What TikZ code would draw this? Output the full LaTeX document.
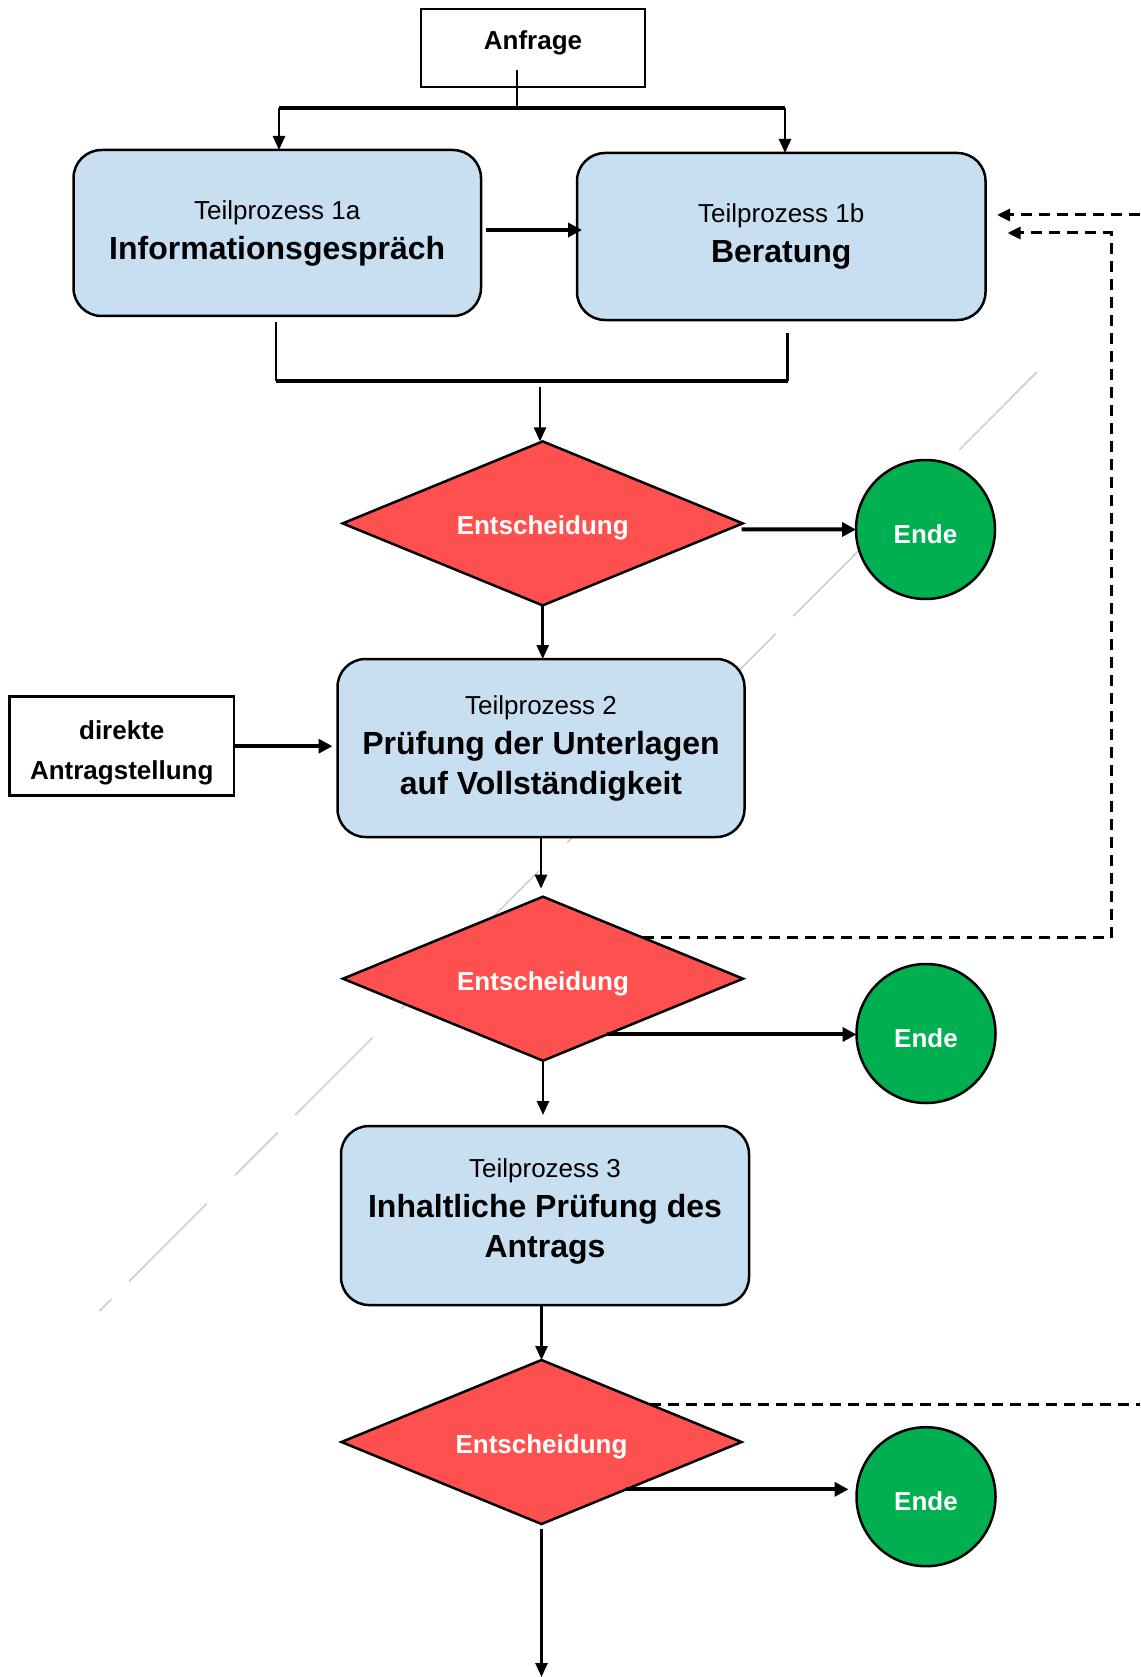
\documentclass[tikz,border=0pt]{standalone}
\usepackage{fontspec}
\setmainfont{Liberation Sans}
\usetikzlibrary{shapes.geometric,arrows.meta,calc}
\definecolor{boxblue}{RGB}{200,222,241}
\definecolor{dred}{RGB}{255,80,80}
\definecolor{egreen}{RGB}{0,176,80}
\begin{document}
\begin{tikzpicture}[x=1pt,y=-1pt,
 every node/.style={inner sep=0pt, outer sep=0pt},
 plain/.style={draw, line width=2.5pt},
 proc/.style={draw, line width=2.5pt, fill=boxblue, rounded corners=28pt, align=center, font=\fontsize{32}{40}\selectfont\bfseries},
 proctxt/.style={align=center, font=\fontsize{32}{40}\selectfont\bfseries},
 dec/.style={diamond, draw, line width=2.5pt, fill=dred, aspect=2.45, minimum width=400pt, minimum height=164pt, text=white, font=\fontsize{26}{31}\selectfont\bfseries, text height=23pt, text depth=0pt},
 term/.style={circle, draw, line width=2.5pt, fill=egreen, minimum size=139pt, text=white, font=\fontsize{26}{31}\selectfont\bfseries, text height=27pt, text depth=0pt},
 conn/.style={line width=2.5pt},
 bar/.style={line width=4pt},
 arr/.style={line width=2.5pt, -{Triangle[length=14pt,width=12pt]}},
 arrthick/.style={line width=4pt, -{Triangle[length=14pt,width=14pt]}},
 dasharr/.style={line width=3pt, dash pattern=on 11pt off 7pt, -{Triangle[length=13pt,width=12pt]}},
 dashline/.style={line width=3pt, dash pattern=on 11pt off 7pt},
 lbl/.style={font=\fontsize{26}{40}\selectfont\bfseries, align=center}
]
\useasboundingbox (0,0) rectangle (1140,1677);
\fill[white] (0,0) rectangle (1140,1677);

% faint diagonal artefact (behind)
\draw[gray!40, line width=1.5pt, dash pattern=on 110pt off 25pt on 60pt off 40pt] (1037,372) -- (99.5,1311);

% nodes
\node[plain, minimum width=224pt, minimum height=78pt] (anf) at (533,48) {};
\node[lbl] (anftxt) at (533,43.3) {Anfrage};
\node[proc, minimum width=407.5pt, minimum height=166pt] (t1a) at (277.25,233)
  {{\fontsize{26}{31}\selectfont\mdseries Teilprozess 1a}\\Informationsgespräch};
\node[proc, minimum width=408.5pt, minimum height=167pt] (t1b) at (781.25,236.5)
  {{\fontsize{26}{31}\selectfont\mdseries Teilprozess 1b}\\Beratung};
\node[dec] (d1) at (542.7,523.4) {Entscheidung};
\node[term] (e1) at (925.5,529.5) {Ende};
\node[proc, minimum width=407pt, minimum height=178pt] (t2) at (541,748)
  {{\fontsize{26}{31}\selectfont\mdseries Teilprozess 2}\\Prüfung der Unterlagen\\auf Vollständigkeit};
\node[plain, minimum width=224.5pt, minimum height=99pt] (dir) at (121.75,746.2) {};
\node[lbl] (dirtxt) at (121.75,752.6) {direkte\\Antragstellung};
\node[dec] (d2) at (543,978.7) {Entscheidung};
\node[term] (e2) at (926,1033.5) {Ende};
\node[proc, minimum width=408pt, minimum height=179pt] (t3) at (545,1215.5) {};
\node[proctxt] (t3txt) at (545,1211)
  {{\fontsize{26}{31}\selectfont\mdseries Teilprozess 3}\\Inhaltliche Prüfung des\\Antrags};
\node[dec] (d3) at (541.5,1442) {Entscheidung};
\node[term] (e3) at (926,1496.7) {Ende};

% coordinates
\coordinate (j0t) at (517,70);
\coordinate (j0) at (517,107.7);
\coordinate (bl) at (279,107.7);
\coordinate (br) at (785,107.7);
\coordinate (m1a) at (276,322);
\coordinate (m1) at (276,380.7);
\coordinate (m2) at (787.5,380.7);
\coordinate (m2a) at (787.5,333);
\coordinate (s1) at (540,387);
\coordinate (c2) at (1111,233);
\coordinate (r1) at (1140,215);
\coordinate (bot) at (541.5,1677);

% connectors top
\draw[conn] (j0t) -- (j0);
\draw[bar] (bl) -- (br);
\draw[arr] (bl) -- (bl |- t1a.north);
\draw[arr] (br) -- (br |- t1b.north);
\draw[arrthick] ($(t1a.east)+(5,-3)$) -- ($(t1b.west)+(5,-6.5)$);
\draw[conn] (m1a) -- (m1);
\draw[bar] (m1) -- (m2);
\draw[conn] (m2) -- (m2a);
\draw[arr] (s1) -- (s1 |- d1.north);

% level 1 decision
\draw[arrthick] ($(d1.east)+(-1,6)$) -- (e1.west);
\draw[arr] (d1.south) -- (d1.south |- t2.north);
\draw[arrthick] (dir.east) -- ($(dir.east -| t2.west)+(-5,0)$);
\draw[arr] (t2.south) -- ($(t2.south |- d2.north)+(0,-8)$);

% level 2 decision
\draw[dasharr] (d2.north east) -- (d2.north east -| c2) -- (c2) -- ($(c2 -| t1b.east)+(22,0)$);
\draw[dasharr] (r1) -- ($(r1 -| t1b.east)+(11.5,0)$);
\path (d2.east) -- (d2.south) coordinate[pos=0.68] (d2x);
\draw[arrthick] (d2x) -- (d2x -| e2.west);
\draw[arr] (d2.south) -- ($(d2.south |- t3.north)+(0,-11)$);

% level 3 decision
\draw[arr] (t3.south -| d3.north) -- (d3.north);
\path (d3.north) -- (d3.east) coordinate[pos=0.54] (d3y);
\draw[dashline] (d3y) -- (d3y -| r1);
\path (d3.east) -- (d3.south) coordinate[pos=0.577] (d3x);
\draw[arrthick] (d3x) -- ($(d3x -| e3.west)+(-8,0)$);
\draw[arr] ($(d3.south)+(0,5)$) -- (bot);
\end{tikzpicture}
\end{document}
